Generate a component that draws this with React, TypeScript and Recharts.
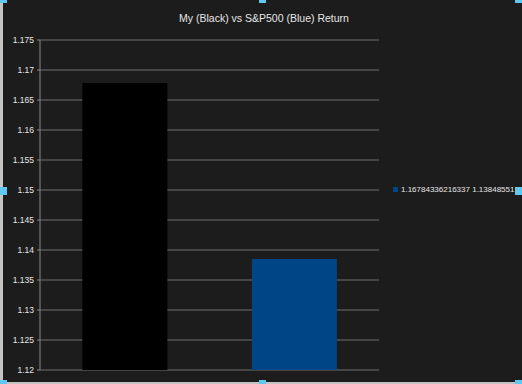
import { BarChart, Bar, Cell, XAxis, YAxis, CartesianGrid } from 'recharts'

const categories = ['My', 'S&P500']
const returns = [1.16784336216337, 1.13848551]
const barColors = ['#000000', '#004586']
const yTicks = [1.12, 1.125, 1.13, 1.135, 1.14, 1.145, 1.15, 1.155, 1.16, 1.165, 1.17, 1.175]
const seriesName = '1.16784336216337 1.13848551'
const title = 'My (Black) vs S&P500 (Blue) Return'

const chartData = categories.map((name, i) => ({ name, value: returns[i] }))

const FONT = '"Liberation Sans", Arial, sans-serif'
const GRID = '#6f6f6f'
const AXIS = '#8a8a8a'
const TEXT = '#e6e6e6'

// selection handles from the editor screenshot
const handles = [
  [0, 0], [259, 0], [515, 0],
  [0, 187], [515, 187],
  [0, 380], [259, 380], [515, 380],
]

export default function App() {
  return (
    <div style={{ position: 'absolute', left: 0, top: 0, width: 522, height: 384, background: '#1c1c1c', overflow: 'hidden' }}>
      <div style={{ position: 'absolute', left: 0, top: 0, width: 3, height: 384, background: '#c4c4c4' }} />
      <div style={{ position: 'absolute', left: 0, top: 382, width: 522, height: 2, background: '#c4c4c4' }} />
      <div
        style={{
          position: 'absolute', left: 0, width: 522, top: 12, textAlign: 'center',
          fontFamily: FONT, fontSize: 10.5, color: TEXT, paddingLeft: 3,
        }}
      >
        {title}
      </div>
      <BarChart
        width={522}
        height={384}
        data={chartData}
        margin={{ top: 40, right: 143, bottom: 14, left: 0 }}
        barCategoryGap="25%"
      >
        <CartesianGrid vertical={false} stroke={GRID} />
        <XAxis dataKey="name" tick={false} tickLine={false} axisLine={{ stroke: AXIS }} height={0} />
        <XAxis
          xAxisId="edges"
          type="number"
          domain={[0, 2]}
          ticks={[0, 1, 2]}
          interval={0}
          tickFormatter={() => ''}
          tickSize={4}
          tickLine={{ stroke: AXIS }}
          axisLine={false}
          height={0}
        />
        <YAxis
          domain={[1.12, 1.175]}
          ticks={yTicks}
          interval={0}
          width={40}
          tickSize={3}
          tickMargin={3}
          tickLine={{ stroke: AXIS }}
          axisLine={{ stroke: AXIS }}
          tick={{ fill: TEXT, fontSize: 8.5, fontFamily: FONT }}
          tickFormatter={(v: number) => String(Number(v.toFixed(3)))}
        />
        <YAxis yAxisId="right" orientation="right" width={0} tick={false} tickLine={false} axisLine={{ stroke: AXIS }} />
        <Bar dataKey="value" name={seriesName} isAnimationActive={false}>
          {chartData.map((_, i) => (
            <Cell key={`cell-${i}`} fill={barColors[i]} />
          ))}
        </Bar>
      </BarChart>
      <div
        style={{
          position: 'absolute', left: 393, top: 185, display: 'flex', alignItems: 'center', gap: 3,
          fontFamily: FONT, fontSize: 8, color: TEXT, whiteSpace: 'nowrap',
        }}
      >
        <div style={{ width: 5, height: 5, background: barColors[1] }} />
        <span>{seriesName}</span>
      </div>
      {handles.map(([x, y], i) => (
        <div key={i} style={{ position: 'absolute', left: x, top: y, width: 7, height: i > 4 ? 4 : i < 3 ? 3 : 8, background: '#5ec8f2' }} />
      ))}
    </div>
  )
}
